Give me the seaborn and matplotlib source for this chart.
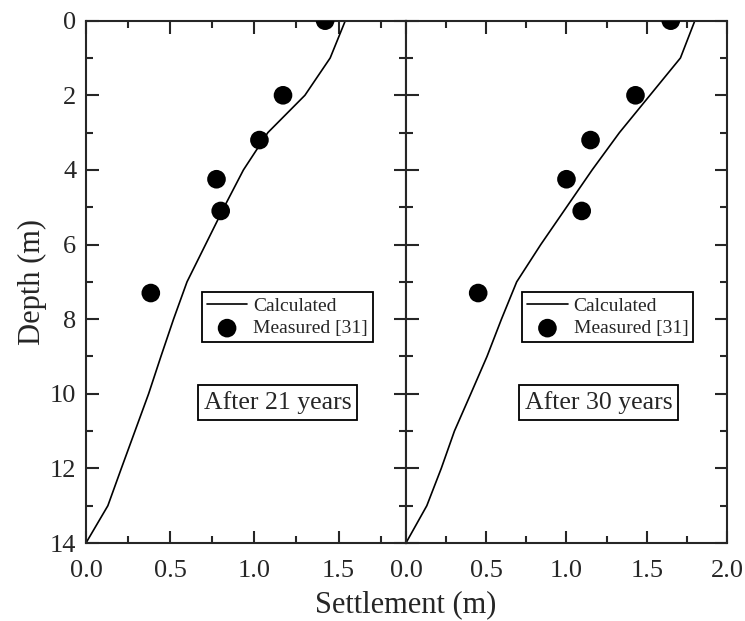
import numpy as np
import pandas as pd
import seaborn as sns
import matplotlib.pyplot as plt
from matplotlib.ticker import MultipleLocator

# calculated settlement profiles (depth 0..14 m)
calc_depth = [0, 1, 2, 3, 4, 5, 6, 7, 8, 9, 10, 11, 12, 13, 14]
calc_21 = [1.54, 1.45, 1.30, 1.08, 0.935, 0.82, 0.71, 0.60, 0.52, 0.445, 0.372, 0.291, 0.21, 0.13, 0.0]
calc_30 = [1.80, 1.71, 1.52, 1.33, 1.16, 1.0, 0.84, 0.69, 0.595, 0.505, 0.404, 0.302, 0.22, 0.13, 0.0]

# measured [31]
meas_depth = [0.0, 2.0, 3.2, 4.25, 5.1, 7.3]
meas_21 = [1.42, 1.17, 1.03, 0.775, 0.80, 0.385]
meas_30 = [1.65, 1.43, 1.15, 1.0, 1.095, 0.45]

panels = [
    (calc_21, meas_21, "After 21 years", 1.9),
    (calc_30, meas_30, "After 30 years", 2.0),
]

sns.set_style("ticks")
plt.rcParams['font.family'] = ['Liberation Serif', 'DejaVu Serif']
plt.rcParams['mathtext.fontset'] = 'stix'

fig = plt.figure(figsize=(7.45, 6.21), dpi=100)
ax1 = fig.add_axes([0.1154, 0.1256, 0.4295, 0.8411])
ax2 = fig.add_axes([0.5449, 0.1256, 0.4309, 0.8411])

for ax, (calc, meas, label, xmax) in zip([ax1, ax2], panels):
    df_c = pd.DataFrame({'depth': calc_depth, 'settle': calc})
    df_m = pd.DataFrame({'depth': meas_depth, 'settle': meas})
    sns.lineplot(data=df_c, x='settle', y='depth', sort=False, estimator=None,
                 color='black', linewidth=1.2, ax=ax, label='Calculated')
    sns.scatterplot(data=df_m, x='settle', y='depth', color='black', s=180,
                    edgecolor='none', ax=ax, label='Measured [31]', zorder=3)
    ax.set_xlim(0, xmax)
    ax.set_ylim(14, 0)
    ax.xaxis.set_major_locator(MultipleLocator(0.5))
    ax.xaxis.set_minor_locator(MultipleLocator(0.25))
    ax.yaxis.set_major_locator(MultipleLocator(2))
    ax.yaxis.set_minor_locator(MultipleLocator(1))
    ax.tick_params(which='both', direction='in', top=True, right=True,
                   width=1.5, labelsize=19)
    ax.tick_params(axis='x', pad=12)
    ax.tick_params(axis='y', pad=7)
    ax.tick_params(which='major', length=9)
    ax.tick_params(which='minor', length=5)
    for s in ax.spines.values():
        s.set_linewidth(1.5)
    ax.set_xlabel('')
    ax.set_ylabel('')
    leg = ax.legend(loc='upper left', bbox_to_anchor=(0.362, 0.48), fontsize=14,
                    frameon=True, fancybox=False, edgecolor='black', framealpha=1,
                    handlelength=2.1, handletextpad=0.3, borderpad=0.25,
                    labelspacing=0.25, borderaxespad=0)
    leg.get_frame().set_linewidth(1.3)
    ax.text(0.6, 0.269, label, transform=ax.transAxes, ha='center', va='center',
            fontsize=18.5, bbox=dict(boxstyle='square,pad=0.22', fc='white',
                                     ec='black', lw=1.3))

ax2.tick_params(labelleft=False)
ax1.set_ylabel('Depth (m)', fontsize=22, labelpad=2)
fig.text(0.545, 0.027, 'Settlement (m)', ha='center', va='center', fontsize=22)

fig.savefig('out.png', dpi=100)
